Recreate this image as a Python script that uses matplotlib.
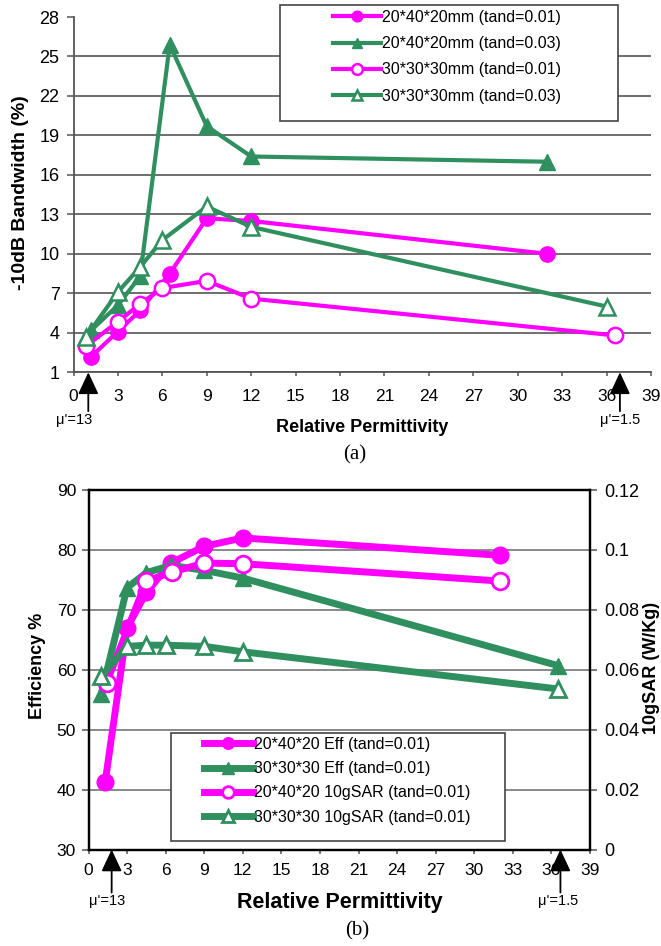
import numpy as np
import matplotlib
matplotlib.use("Agg")
import matplotlib.pyplot as plt
from matplotlib.patches import Rectangle

plt.rcParams['font.family'] = ['Liberation Sans', 'DejaVu Sans']

# ---- data, panel (a): -10dB bandwidth vs relative permittivity
x_a1 = [1.2, 3, 4.5, 6.5, 9, 12, 32]
bw_a1 = [2.2, 4.1, 5.7, 8.5, 12.7, 12.5, 10.0]          # 20*40*20mm tand=0.01
x_a2 = [1.2, 3, 4.5, 6.5, 9, 12, 32]
bw_a2 = [4.2, 6.1, 8.3, 25.9, 19.7, 17.4, 17.0]         # 20*40*20mm tand=0.03
x_a3 = [0.85, 3, 4.5, 6, 9, 12, 36.6]
bw_a3 = [3.0, 4.85, 6.2, 7.4, 7.95, 6.6, 3.8]           # 30*30*30mm tand=0.01
x_a4 = [0.85, 3, 4.5, 6, 9, 12, 36]
bw_a4 = [3.7, 7.1, 9.0, 11.05, 13.6, 12.05, 6.0]        # 30*30*30mm tand=0.03
labels_a = ['20*40*20mm (tand=0.01)', '20*40*20mm (tand=0.03)',
            '30*30*30mm (tand=0.01)', '30*30*30mm (tand=0.03)']

# ---- data, panel (b): efficiency and 10g SAR
x_eff1 = [1.3, 3, 4.5, 6.4, 9, 12, 32]
eff1 = [41.3, 67.0, 72.9, 77.8, 80.6, 82.0, 79.1]
x_eff2 = [1.0, 3, 4.5, 6.4, 9, 12, 36.5]
eff2 = [56.0, 73.7, 76.2, 77.4, 76.6, 75.3, 60.7]
x_sar1 = [1.4, 4.5, 6.5, 9, 12, 32]
sar1 = [0.0556, 0.0896, 0.0926, 0.0956, 0.0954, 0.0896]
x_sar2 = [1.0, 3, 4.5, 6, 9, 12, 36.5]
sar2 = [0.0578, 0.0678, 0.0682, 0.0682, 0.0678, 0.066, 0.0536]
labels_b = ['20*40*20 Eff (tand=0.01)', '30*30*30 Eff (tand=0.01)',
            '20*40*20 10gSAR (tand=0.01)', '30*30*30 10gSAR (tand=0.01)']

x_ticks = np.arange(0, 40, 3)
bw_ticks = np.arange(1, 29, 3)
eff_ticks = np.arange(30, 91, 10)
sar_ticks = [0, 0.02, 0.04, 0.06, 0.08, 0.1, 0.12]
sar_ticklabels = ['0', '0.02', '0.04', '0.06', '0.08', '0.1', '0.12']

# arrows marking mu' at the ends of the permittivity range
arrow_a = [1.0, 36.9]
arrow_b = [1.8, 36.7]
mu_labels = ["\u03bc'=13", "\u03bc'=1.5"]

MAG = '#FF00FF'
GRN = '#2F8F5F'

W, H = 661, 946
fig = plt.figure(figsize=(W / 100, H / 100), dpi=100)


def fx(px):
    return px / W


def fy(py):
    return 1 - py / H


# ================= panel (a) =================
ax1 = fig.add_axes([fx(73.5), fy(372.3), 577.5 / W, 355.3 / H])
ax1.plot(x_a1, bw_a1, '-o', color=MAG, lw=3, ms=11, label=labels_a[0])
ax1.plot(x_a2, bw_a2, '-^', color=GRN, lw=3, ms=11, label=labels_a[1])
ax1.plot(x_a3, bw_a3, '-o', color=MAG, lw=3, ms=11, mfc='white', mew=1.8, label=labels_a[2])
ax1.plot(x_a4, bw_a4, '-^', color=GRN, lw=3, ms=11, mfc='white', mew=1.8, label=labels_a[3])

ax1.set_xlim(0, 39)
ax1.set_ylim(1, 28)
ax1.set_xticks(x_ticks)
ax1.set_yticks(bw_ticks)
ax1.yaxis.grid(True, color='#555555', lw=1.2)
ax1.set_axisbelow(True)
ax1.get_ygridlines()[-1].set_visible(False)
for s in ['top', 'right']:
    ax1.spines[s].set_visible(False)
for s in ['left', 'bottom']:
    ax1.spines[s].set_color('#555555')
    ax1.spines[s].set_linewidth(1.3)
ax1.tick_params(axis='y', length=5, width=1.1, color='#555555', pad=5, labelsize=13)
ax1.tick_params(axis='x', length=3, width=1.1, color='#555555', pad=9, labelsize=12.5)

for xa, lab, dx in zip(arrow_a, mu_labels, [-10, 0]):
    ax1.annotate('', xy=(xa, 0), xycoords=('data', 'axes fraction'),
                 xytext=(0, -28), textcoords='offset points', annotation_clip=False,
                 arrowprops=dict(arrowstyle='-|>,head_length=0.9,head_width=0.42',
                                 mutation_scale=15, color='black', lw=1.3,
                                 shrinkA=0, shrinkB=0))
    ax1.annotate(lab, xy=(xa, 0), xycoords=('data', 'axes fraction'),
                 xytext=(dx, -34), textcoords='offset points', annotation_clip=False,
                 ha='center', va='center', fontsize=10.5)

fig.text(fx(21), fy(193), '-10dB Bandwidth (%)', rotation=90, ha='center', va='center',
         fontsize=14, fontweight='bold')
fig.text(fx(362), fy(427), 'Relative Permittivity', ha='center', va='center',
         fontsize=13, fontweight='bold')
fig.text(fx(355), fy(455), '(a)', ha='center', va='center', fontsize=15,
         family='Liberation Serif')

fig.add_artist(Rectangle((fx(280), fy(121)), 338 / W, 116 / H, transform=fig.transFigure,
                         facecolor='white', edgecolor='#444444', lw=1.2))
h1, l1 = ax1.get_legend_handles_labels()
fig.legend(h1, l1, loc='upper left', bbox_to_anchor=(fx(333), fy(10)), frameon=False,
           borderpad=0, borderaxespad=0, handlelength=3.0, handletextpad=0.05,
           labelspacing=0.7, fontsize=11.5, markerscale=0.7)

# ================= panel (b) =================
ax2 = fig.add_axes([fx(88.5), fy(849.5), 501.5 / W, 359.5 / H])
l_e1, = ax2.plot(x_eff1, eff1, '-o', color=MAG, lw=5, ms=12)
l_e2, = ax2.plot(x_eff2, eff2, '-^', color=GRN, lw=5, ms=12)
ax2.set_xlim(0, 39)
ax2.set_ylim(30, 90)
ax2.set_xticks(x_ticks)
ax2.set_yticks(eff_ticks)
ax2.yaxis.grid(True, color='#808080', lw=1.3)
ax2.set_axisbelow(True)
for s in ax2.spines.values():
    s.set_linewidth(1.6)
ax2.tick_params(axis='y', length=5, width=1.1, color='#555555', pad=4, labelsize=12.5)
ax2.tick_params(axis='x', length=3, width=1.1, color='#555555', pad=7, labelsize=12.5)

ax3 = ax2.twinx()
l_s1, = ax3.plot(x_sar1, sar1, '-o', color=MAG, lw=5, ms=12, mfc='white', mew=2)
l_s2, = ax3.plot(x_sar2, sar2, '-^', color=GRN, lw=5, ms=12, mfc='white', mew=2)
ax3.set_ylim(0, 0.12)
ax3.set_yticks(sar_ticks)
ax3.set_yticklabels(sar_ticklabels)
ax3.tick_params(axis='y', length=5, width=1.1, color='#555555', pad=5, labelsize=13)
for s in ax3.spines.values():
    s.set_linewidth(1.6)

for xa, lab, dx in zip(arrow_b, mu_labels, [-3.5, -2]):
    ax2.annotate('', xy=(xa, 0), xycoords=('data', 'axes fraction'),
                 xytext=(0, -31), textcoords='offset points', annotation_clip=False,
                 arrowprops=dict(arrowstyle='-|>,head_length=0.9,head_width=0.42',
                                 mutation_scale=15, color='black', lw=1.3,
                                 shrinkA=0, shrinkB=0))
    ax2.annotate(lab, xy=(xa, 0), xycoords=('data', 'axes fraction'),
                 xytext=(dx, -37), textcoords='offset points', annotation_clip=False,
                 ha='center', va='center', fontsize=10.5)

fig.text(fx(38), fy(666), 'Efficiency %', rotation=90, ha='center', va='center',
         fontsize=13, fontweight='bold')
fig.text(fx(651), fy(668), '10gSAR (W/Kg)', rotation=90, ha='center', va='center',
         fontsize=13, fontweight='bold')
fig.text(fx(340), fy(902), 'Relative Permittivity', ha='center', va='center',
         fontsize=15.5, fontweight='bold')
fig.text(fx(357), fy(931), '(b)', ha='center', va='center', fontsize=15,
         family='Liberation Serif')

fig.add_artist(Rectangle((fx(171), fy(841)), 334 / W, 108 / H, transform=fig.transFigure,
                         facecolor='white', edgecolor='#444444', lw=1.2))
fig.legend([l_e1, l_e2, l_s1, l_s2], labels_b, loc='upper left',
           bbox_to_anchor=(fx(204), fy(737)), frameon=False,
           borderpad=0, borderaxespad=0, handlelength=3.05, handletextpad=0.05,
           labelspacing=0.575, fontsize=11.5, markerscale=0.7)

fig.savefig('out.png', dpi=100)
